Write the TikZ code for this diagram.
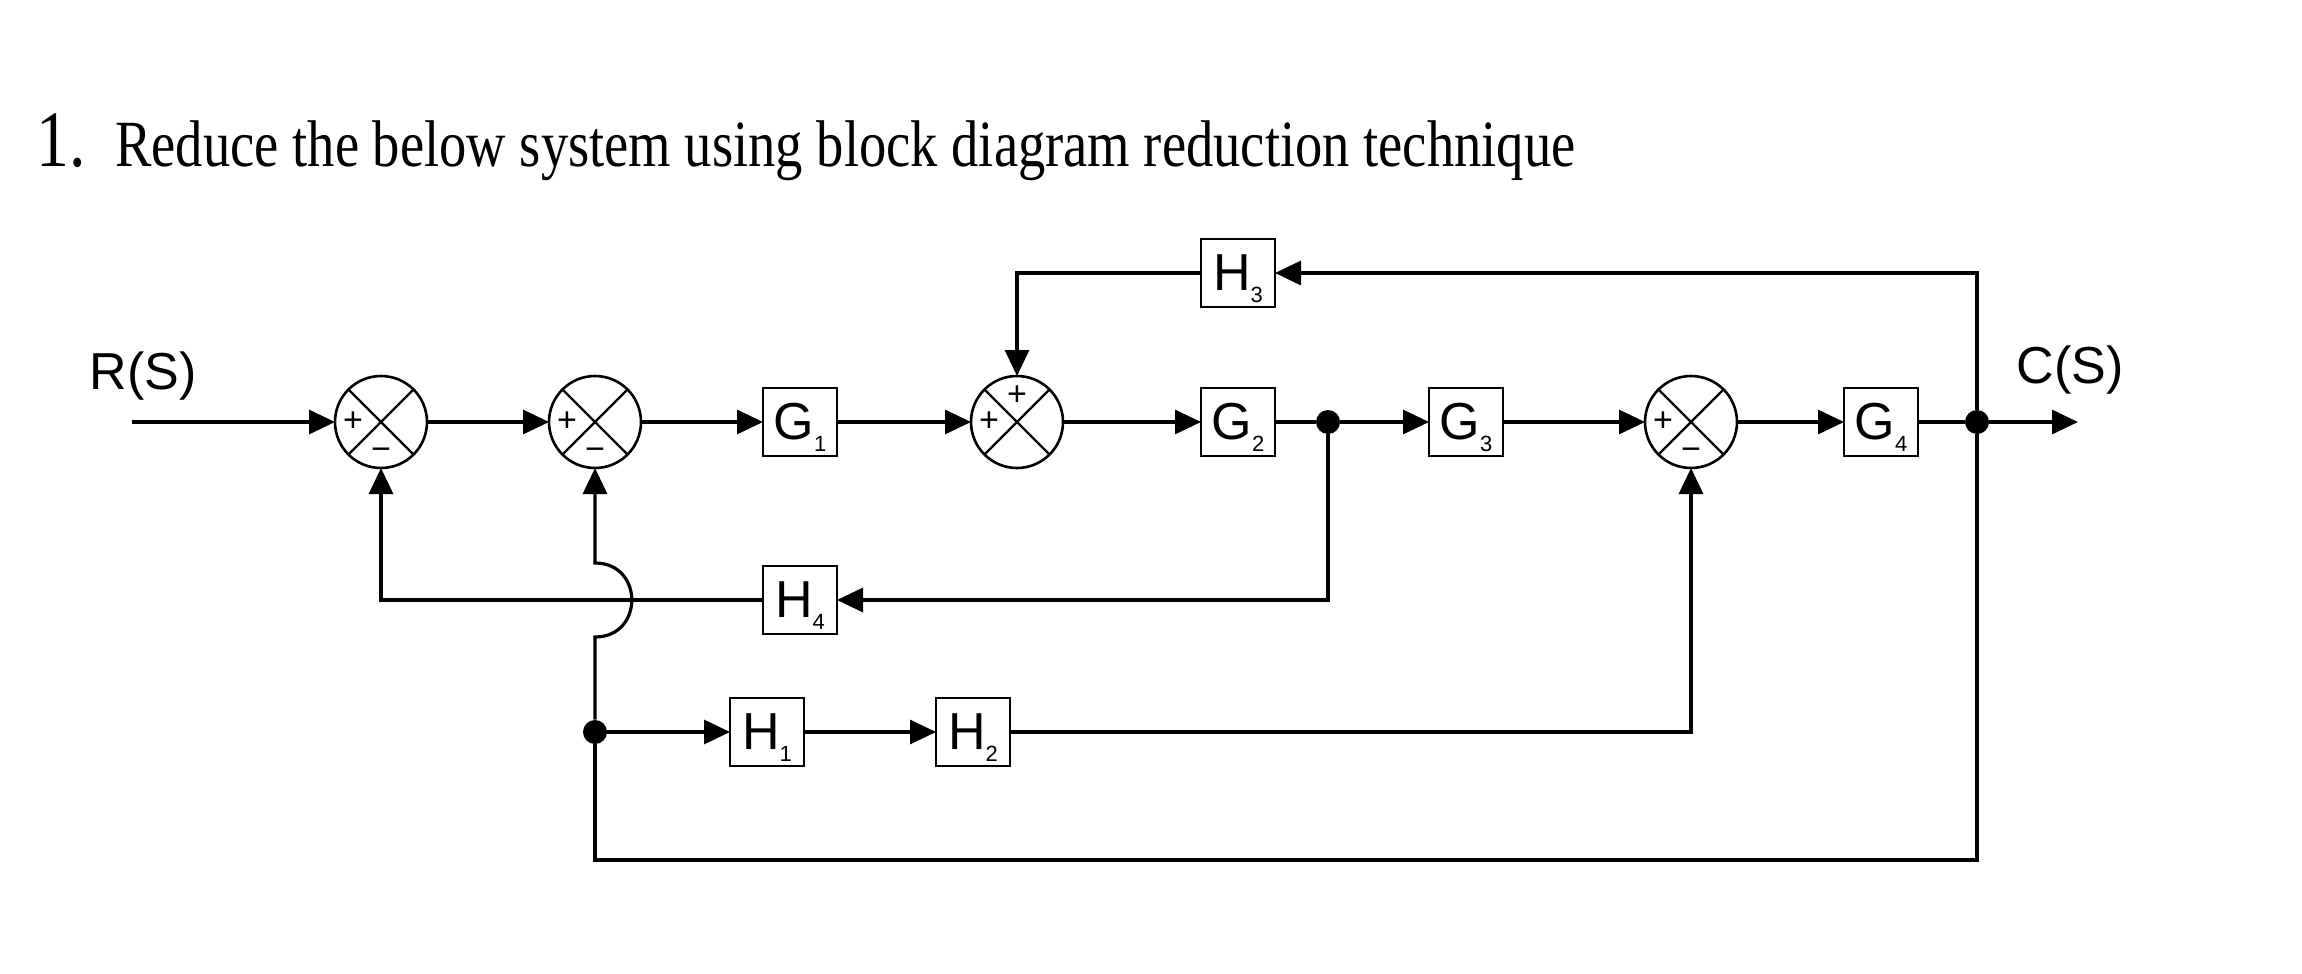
\documentclass[tikz,border=0pt]{standalone}
\usepackage{fontspec}
\setmainfont{Liberation Serif}
\setsansfont{Liberation Sans}
\usetikzlibrary{arrows.meta}
\newcommand\bxlab[2]{#1\raisebox{-6pt}[0pt][0pt]{\fontsize{11}{11}\selectfont #2}}
\begin{document}
\begin{tikzpicture}[x=0.5pt,y=-0.5pt,
  blk/.style={draw, line width=1.3pt, minimum width=37pt, minimum height=34pt, inner sep=0pt, outer sep=0pt, font=\sffamily\fontsize{26}{26}\selectfont},
  sumj/.style={draw, circle, line width=1.3pt, minimum size=46pt, inner sep=0pt, outer sep=0pt},
  jdot/.style={circle, fill=black, minimum size=12pt, inner sep=0pt},
  sig/.style={font=\sffamily\fontsize{17}{17}\selectfont, inner sep=0pt},
  lab/.style={font=\sffamily\fontsize{26}{26}\selectfont, inner sep=0pt},
  wire/.style={line width=1.6pt},
  arr/.style={wire, -{Triangle[length=13pt,width=12pt]}}]
\fill[white] (0,0) rectangle (2302,974);
\useasboundingbox (0,0) rectangle (2302,974);
% title
\node[anchor=base west, inner sep=0pt] (num) at (36,167) {\scalebox{0.82}[1]{\fontsize{40}{40}\selectfont 1.}};
\node[anchor=base west, inner sep=0pt] (title) at (115,167) {\resizebox{730pt}{\height}{\fontsize{33}{33}\selectfont Reduce the below system using block diagram reduction technique}};
% labels
\node[lab] (rs) at (143,376) {R(S)};
\node[lab] (cs) at (2070,370) {C(S)};
% summing junctions
\node[sumj] (s1) at (381,422) {};
\node[sumj] (s2) at (595,422) {};
\node[sumj] (s3) at (1017,422) {};
\node[sumj] (s4) at (1691,422) {};
\foreach \s in {s1,s2,s3,s4}{
  \draw[line width=1.1pt] (\s.north west) -- (\s.south east) (\s.north east) -- (\s.south west);
}
\node[sig, xshift=-14pt] at (s1) {+};
\node[sig, yshift=-16pt] at (s1) {−};
\node[sig, xshift=-14pt] at (s2) {+};
\node[sig, yshift=-16pt] at (s2) {−};
\node[sig, xshift=-14pt] at (s3) {+};
\node[sig, yshift=13pt] at (s3) {+};
\node[sig, xshift=-14pt] at (s4) {+};
\node[sig, yshift=-16pt] at (s4) {−};
% blocks
\node[blk] (g1) at (800,422) {\bxlab{G}{1}};
\node[blk] (g2) at (1238,422) {\bxlab{G}{2}};
\node[blk] (g3) at (1466,422) {\bxlab{G}{3}};
\node[blk] (g4) at (1881,422) {\bxlab{G}{4}};
\node[blk] (h3) at (1238,273) {\bxlab{H}{3}};
\node[blk] (h4) at (800,600) {\bxlab{H}{4}};
\node[blk] (h1) at (767,732) {\bxlab{H}{1}};
\node[blk] (h2) at (973,732) {\bxlab{H}{2}};
% junction dots
\node[jdot] (j1) at (1328,422) {};
\node[jdot] (j2) at (1977,422) {};
\node[jdot] (j3) at (595,732) {};
% coordinates
\coordinate (in) at (132,422);
\coordinate (out) at (2078,422);
\coordinate (tr) at (1977,273);
\coordinate (tl) at (1017,273);
\coordinate (r4) at (1328,600);
\coordinate (l4) at (381,600);
\coordinate (br) at (1977,860);
\coordinate (bl) at (595,860);
\coordinate (hb) at (595,637);
\coordinate (ht) at (595,563);
\coordinate (r2) at (1691,732);
% forward path
\draw[arr] (in) -- (s1);
\draw[arr] (s1) -- (s2);
\draw[arr] (s2) -- (g1);
\draw[arr] (g1) -- (s3);
\draw[arr] (s3) -- (g2);
\draw[wire] (g2) -- (j1);
\draw[arr] (j1) -- (g3);
\draw[arr] (g3) -- (s4);
\draw[arr] (s4) -- (g4);
\draw[wire] (g4) -- (j2);
\draw[arr] (j2) -- (out);
% H3 loop
\draw[arr] (j2) -- (tr) -- (h3);
\draw[arr] (h3) -- (tl) -- (s3);
% H4 loop
\draw[arr] (j1) -- (r4) -- (h4);
\draw[arr] (h4) -- (l4) -- (s1);
% outer loop
\draw[wire] (j2) -- (br) -- (bl) -- (j3);
\draw[arr] (j3) -- (hb) to[out=0,in=0,looseness=1.7] (ht) -- (s2);
% H1 H2 path
\draw[arr] (j3) -- (h1);
\draw[arr] (h1) -- (h2);
\draw[arr] (h2) -- (r2) -- (s4);
\end{tikzpicture}
\end{document}
